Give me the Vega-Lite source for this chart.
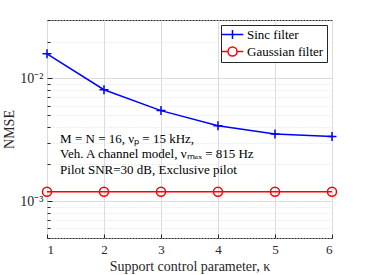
{
  "$schema": "https://vega.github.io/schema/vega-lite/v6.json",
  "width": 285,
  "height": 218,
  "autosize": {"type": "none"},
  "padding": {"left": 47, "top": 20, "right": 35, "bottom": 37},
  "background": "white",
  "config": {
    "font": "Liberation Serif",
    "view": {"stroke": "#262626", "strokeWidth": 1},
    "axis": {"labelColor": "#262626", "titleColor": "#262626", "titleFontWeight": "normal", "labelFontSize": 13, "titleFontSize": 14, "domain": false, "tickColor": "#262626", "gridColor": "#dcdcdc", "gridOpacity": 1}
  },
  "datasets": {
    "nmse": [
      {"k": 1, "nmse": 0.0159, "series": "Sinc filter"},
      {"k": 2, "nmse": 0.0081, "series": "Sinc filter"},
      {"k": 3, "nmse": 0.00547, "series": "Sinc filter"},
      {"k": 4, "nmse": 0.00412, "series": "Sinc filter"},
      {"k": 5, "nmse": 0.00352, "series": "Sinc filter"},
      {"k": 6, "nmse": 0.00336, "series": "Sinc filter"},
      {"k": 1, "nmse": 0.00119, "series": "Gaussian filter"},
      {"k": 2, "nmse": 0.00119, "series": "Gaussian filter"},
      {"k": 3, "nmse": 0.00119, "series": "Gaussian filter"},
      {"k": 4, "nmse": 0.00119, "series": "Gaussian filter"},
      {"k": 5, "nmse": 0.00119, "series": "Gaussian filter"},
      {"k": 6, "nmse": 0.00119, "series": "Gaussian filter"}
    ],
    "notes": [
      {"k": 1.23, "nmse": 0.00321, "note": "M = N = 16, νₚ = 15 kHz,"},
      {"k": 1.23, "nmse": 0.00241, "note": "Veh. A channel model, νₘₐₓ = 815 Hz"},
      {"k": 1.23, "nmse": 0.00179, "note": "Pilot SNR=30 dB, Exclusive pilot"}
    ]
  },
  "encoding": {
    "x": {
      "field": "k", "type": "quantitative",
      "scale": {"domain": [1, 6], "nice": false, "zero": false},
      "axis": {"values": [1, 2, 3, 4, 5, 6], "format": "d", "tickSize": -4, "labelPadding": 9, "title": "Support control parameter, κ", "titlePadding": 3}
    },
    "y": {
      "field": "nmse", "type": "quantitative",
      "scale": {"type": "log", "domain": [0.0005, 0.03], "nice": false},
      "axis": {
        "values": [0.0005, 0.0006, 0.0007, 0.0008, 0.0009, 0.001, 0.002, 0.003, 0.004, 0.005, 0.006, 0.007, 0.008, 0.009, 0.01, 0.02, 0.03],
        "labelExpr": "abs(datum.value - 0.01) < 1e-9 ? '10⁻²' : (abs(datum.value - 0.001) < 1e-10 ? '10⁻³' : '')",
        "gridDash": {"condition": {"test": "abs(datum.value - 0.01) < 1e-9 || abs(datum.value - 0.001) < 1e-10", "value": []}, "value": [1, 2]},
        "tickSize": {"condition": {"test": "abs(datum.value - 0.01) < 1e-9 || abs(datum.value - 0.001) < 1e-10", "value": -5}, "value": -3},
        "labelPadding": 9,
        "labelFontSize": 14,
        "title": "NMSE",
        "titlePadding": 3
      }
    }
  },
  "layer": [
    {
      "data": {"name": "nmse"},
      "mark": {"type": "line", "strokeWidth": 1.5},
      "encoding": {
        "color": {"field": "series", "type": "nominal", "scale": {"domain": ["Sinc filter", "Gaussian filter"], "range": ["#0000ff", "#ff0000"]}, "legend": null}
      }
    },
    {
      "data": {"name": "nmse"},
      "mark": {"type": "point", "filled": false, "strokeWidth": 1.5, "size": 81, "opacity": 1},
      "encoding": {
        "color": {"field": "series", "type": "nominal", "scale": {"domain": ["Sinc filter", "Gaussian filter"], "range": ["#0000ff", "#ff0000"]}, "legend": null},
        "shape": {"field": "series", "type": "nominal", "scale": {"domain": ["Sinc filter", "Gaussian filter"], "range": ["M-1,0H1M0,-1V1", "M1,0A1,1 0 1,1 -1,0A1,1 0 1,1 1,0"]}, "legend": null}
      }
    },
    {
      "data": {"name": "nmse"},
      "transform": [{"filter": "false"}],
      "mark": {"type": "point", "filled": false, "strokeWidth": 1.5, "size": 81, "opacity": 1},
      "encoding": {
        "color": {"field": "series", "type": "nominal", "scale": {"domain": ["Sinc filter", "Gaussian filter"], "range": ["#0000ff", "#ff0000"]},
          "legend": {"title": null, "orient": "top-right", "offset": 5, "padding": 3, "rowPadding": 2, "strokeColor": "#262626", "fillColor": "white", "labelFontSize": 13, "labelColor": "black", "symbolSize": 81, "symbolStrokeWidth": 1.5, "symbolOffset": 2, "labelOffset": 8}},
        "shape": {"field": "series", "type": "nominal", "scale": {"domain": ["Sinc filter", "Gaussian filter"], "range": ["M-2.4,0H2.4M0,-1V1", "M-2.4,0H-1M1,0H2.4M1,0A1,1 0 1,1 -1,0A1,1 0 1,1 1,0"]},
          "legend": {"title": null, "orient": "top-right", "offset": 5, "padding": 3, "rowPadding": 2, "strokeColor": "#262626", "fillColor": "white", "labelFontSize": 13, "labelColor": "black", "symbolSize": 81, "symbolStrokeWidth": 1.5, "symbolOffset": 2, "labelOffset": 8}}
      }
    },
    {
      "data": {"name": "notes"},
      "mark": {"type": "text", "align": "left", "baseline": "middle", "fontSize": 13, "color": "black"},
      "encoding": {"text": {"field": "note"}}
    }
  ],
  "resolve": {"scale": {"color": "independent", "shape": "independent"}}
}
